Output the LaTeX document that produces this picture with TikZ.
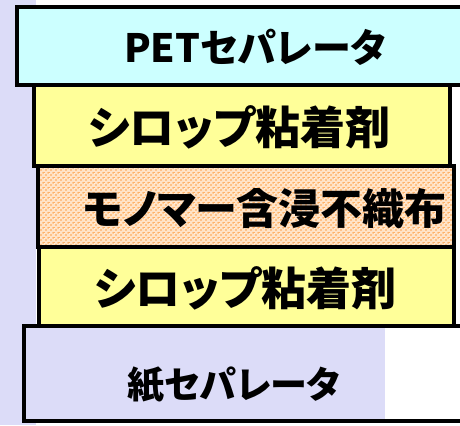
\documentclass[tikz,border=0pt]{standalone}
\usepackage{fontspec}
\newfontfamily\jp{Noto Sans CJK JP}[RawFeature=+palt]
\usetikzlibrary{patterns.meta}
\definecolor{lav}{RGB}{220,220,248}
\definecolor{petcyan}{RGB}{204,255,255}
\definecolor{syrup}{RGB}{255,255,153}
\definecolor{peach}{RGB}{255,228,200}
\definecolor{dotor}{RGB}{255,160,70}
\tikzdeclarepattern{
  name=odots,
  type=colored,
  bottom left={(0bp,0bp)}, top right={(5bp,5bp)},
  tile size={(5bp,5bp)},
  code={
    \fill[dotor] (1.25bp,1.25bp) circle (1.05bp);
    \fill[dotor] (3.75bp,3.75bp) circle (1.05bp);
  }
}
\tikzset{
  layer/.style={draw=black, line width=4bp},
  lbl/.style={font=\jp\bfseries\fontsize{#1}{#1}\selectfont, inner sep=0pt, anchor=center},
  lbl/.default={40bp}
}
\begin{document}
\begin{tikzpicture}[x=1bp,y=-1bp]
\useasboundingbox (0,0) rectangle (460,425);
\fill[white] (0,0) rectangle (460,425);
\fill[lav] (0,0) rectangle (36,425);
% PET separator
\path[layer, fill=petcyan] (17,7) rectangle (475,85);
\node[lbl=39bp] (pet) at (255,47) {PETセパレータ};
% syrup adhesive 1
\path[layer, fill=syrup] (34,85) rectangle (450,166);
\node[lbl=45bp] (ad1) at (239,127) {シロップ粘着剤};
% monomer-impregnated nonwoven
\fill[peach] (38,166) rectangle (454,246.5);
\fill[pattern=odots] (38,166) rectangle (454,246.5);
\draw[layer] (38,166) rectangle (454,246.5);
\node[lbl=42bp] (nw) at (265,209) {モノマー含浸不織布};
% syrup adhesive 2
\path[layer, fill=syrup] (39,246.5) rectangle (454,326);
\node[lbl=45bp] (ad2) at (245,288) {シロップ粘着剤};
% paper separator
\fill[lav] (24,326) rectangle (385,421);
\draw[layer] (475,326) -- (24,326) -- (24,421) -- (475,421);
\node[lbl=37bp] (paper) at (234,385) {紙セパレータ};
\end{tikzpicture}
\end{document}
